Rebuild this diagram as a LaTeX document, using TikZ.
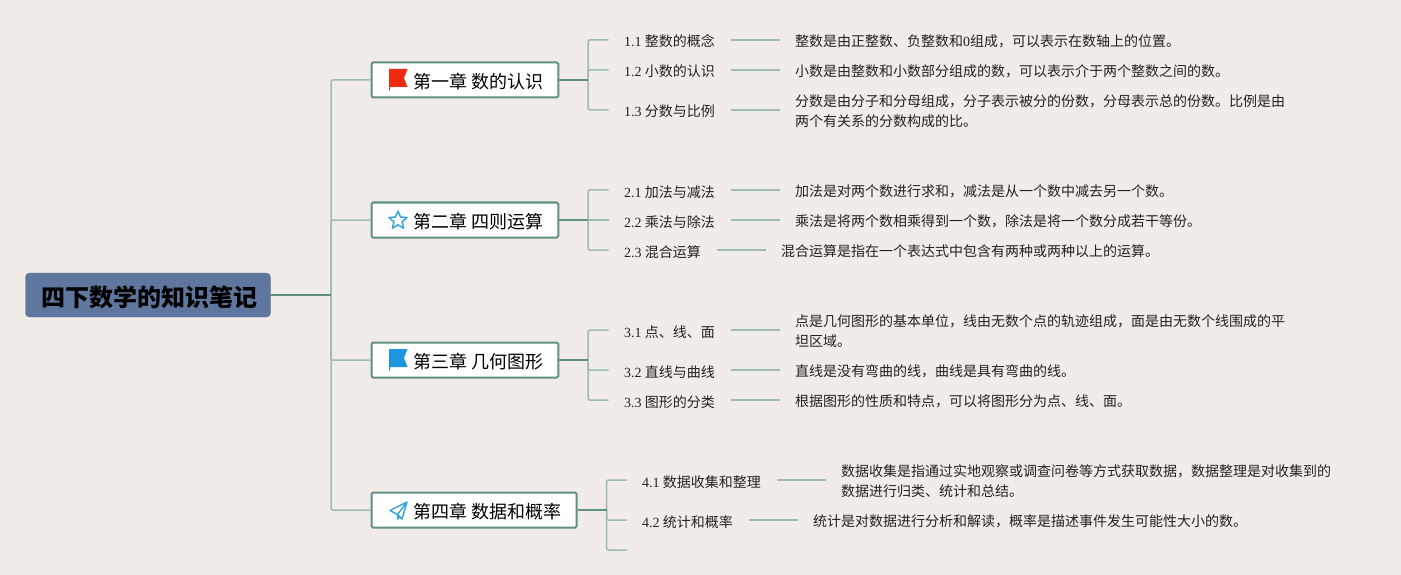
\documentclass[tikz,border=0pt]{standalone}
\usepackage{fontspec}
\setmainfont{Noto Sans CJK SC}
\newfontfamily\latinf{Liberation Serif}
\newcommand{\nm}[1]{{\latinf #1}}
\usetikzlibrary{shapes.geometric}
\definecolor{bgc}{HTML}{F1ECE8}
\definecolor{darkl}{HTML}{5F9081}
\definecolor{lightl}{HTML}{9DBDAE}
\definecolor{rootc}{HTML}{5F779F}
\definecolor{txt}{HTML}{222222}
\definecolor{iconblue}{HTML}{3BA3DE}
\definecolor{flagblue}{HTML}{1C96E0}
\definecolor{flagred}{HTML}{EE2A0F}
\tikzset{
  rootbox/.style={draw=rootc,fill=rootc,rounded corners=4pt,minimum width=245pt,minimum height=44pt,inner sep=0pt,text height=22pt,text depth=0pt,font=\fontsize{24}{28}\selectfont\bfseries,text=black},
  chapbox/.style={draw=darkl,fill=white,line width=2pt,rounded corners=1.5pt,anchor=west,minimum height=35pt,inner sep=0pt},
  chaptxt/.style={anchor=west,inner sep=0pt,font=\fontsize{18}{20}\selectfont,text=black},
  sublabel/.style={anchor=west,inner xsep=15.5pt,inner ysep=0pt,text height=14pt,text depth=0pt,font=\fontsize{14}{20}\selectfont,text=txt},
  desc/.style={anchor=west,inner xsep=15pt,inner ysep=0pt,align=left,font=\fontsize{14}{20}\selectfont,text=txt},
  dk/.style={draw=darkl,line width=2pt},
  lt/.style={draw=lightl,line width=1.5pt,rounded corners=1.5pt},
  lk/.style={draw=lightl,line width=1.5pt}
}
\begin{document}
\begin{tikzpicture}[x=1pt,y=-1pt]
\fill[bgc] (0,0) rectangle (1401,575);
\useasboundingbox (0,0) rectangle (1401,575);
% junctions
\coordinate (trunk) at (331,295);
\coordinate (j1) at (588,80);
\coordinate (j2) at (588,220);
\coordinate (j3) at (588,360);
\coordinate (j4) at (606.5,510);
\coordinate (e43) at (627,550);
% root and chapters
\node[rootbox] (root) at (148,295) {\hspace*{2pt}四下数学的知识笔记};
\node[chapbox,minimum width=186.8pt] (c1) at (370.5,80) {};
\node[chapbox,minimum width=186.8pt] (c2) at (370.5,220) {};
\node[chapbox,minimum width=186.8pt] (c3) at (370.5,360) {};
\node[chapbox,minimum width=205.2pt] (c4) at (370.5,510) {};
\node[chaptxt] (t1) at (413,82) {第一章 数的认识};
\node[chaptxt] (t2) at (413,222) {第二章 四则运算};
\node[chaptxt] (t3) at (413,362) {第三章 几何图形};
\node[chaptxt] (t4) at (413,512) {第四章 数据和概率};
% icons
\fill[flagred] (389,69) -- (407.5,69) -- (404,78) -- (407.5,87) -- (390,87) -- (390,90.5) -- (389,90.5) -- cycle;
\node[star,star points=5,star point ratio=2.2,draw=iconblue,line width=1.5pt,line join=round,minimum size=19pt,inner sep=0pt] (ic2) at (398,220.5) {};
\fill[flagblue] (389,349) -- (407.5,349) -- (404,358) -- (407.5,367) -- (390,367) -- (390,370.5) -- (389,370.5) -- cycle;
\draw[iconblue,line width=1.5pt,line join=round] (390,510.5) -- (407,502) -- (402,519) -- (397.5,514.5) -- cycle (397.5,514.5) -- (407,502) (397.5,514.5) -- (397.5,519) -- (400.5,516.5);
% sub labels
\node[sublabel] (l11) at (608.5,40) {\nm{1.1} 整数的概念};
\node[sublabel] (l12) at (608.5,70) {\nm{1.2} 小数的认识};
\node[sublabel] (l13) at (608.5,110) {\nm{1.3} 分数与比例};
\node[sublabel] (l21) at (608.5,190) {\nm{2.1} 加法与减法};
\node[sublabel] (l22) at (608.5,220) {\nm{2.2} 乘法与除法};
\node[sublabel] (l23) at (608.5,250) {\nm{2.3} 混合运算};
\node[sublabel] (l31) at (608.5,330) {\nm{3.1} 点、线、面};
\node[sublabel] (l32) at (608.5,370) {\nm{3.2} 直线与曲线};
\node[sublabel] (l33) at (608.5,400) {\nm{3.3} 图形的分类};
\node[sublabel] (l41) at (626.5,480) {\nm{4.1} 数据收集和整理};
\node[sublabel] (l42) at (626.5,520) {\nm{4.2} 统计和概率};
% descriptions
\node[desc] (d11) at (780,41) {整数是由正整数、负整数和\nm{0}组成，可以表示在数轴上的位置。};
\node[desc] (d12) at (780,71) {小数是由整数和小数部分组成的数，可以表示介于两个整数之间的数。};
\node[desc] (d13) at (780,111) {分数是由分子和分母组成，分子表示被分的份数，分母表示总的份数。比例是由\\两个有关系的分数构成的比。};
\node[desc] (d21) at (780,191) {加法是对两个数进行求和，减法是从一个数中减去另一个数。};
\node[desc] (d22) at (780,221) {乘法是将两个数相乘得到一个数，除法是将一个数分成若干等份。};
\node[desc] (d23) at (766,251) {混合运算是指在一个表达式中包含有两种或两种以上的运算。};
\node[desc] (d31) at (780,331) {点是几何图形的基本单位，线由无数个点的轨迹组成，面是由无数个线围成的平\\坦区域。};
\node[desc] (d32) at (780,371) {直线是没有弯曲的线，曲线是具有弯曲的线。};
\node[desc] (d33) at (780,401) {根据图形的性质和特点，可以将图形分为点、线、面。};
\node[desc] (d41) at (826,481) {数据收集是指通过实地观察或调查问卷等方式获取数据，数据整理是对收集到的\\数据进行归类、统计和总结。};
\node[desc] (d42) at (798,521) {统计是对数据进行分析和解读，概率是描述事件发生可能性大小的数。};
% trunk
\draw[lt] (trunk) |- (c1.west);
\draw[lt] (trunk) |- (c2.west);
\draw[lt] (trunk) |- (c3.west);
\draw[lt] (trunk) |- (c4.west);
\draw[dk] (root.east) -- (trunk);
% chapter to sub
\draw[lt] (j1) |- (l11.west);
\draw[lt] (j1) |- (l12.west);
\draw[lt] (j1) |- (l13.west);
\draw[lt] (j2) |- (l21.west);
\draw[lt] (j2) -- (l22.west);
\draw[lt] (j2) |- (l23.west);
\draw[lt] (j3) |- (l31.west);
\draw[lt] (j3) |- (l32.west);
\draw[lt] (j3) |- (l33.west);
\draw[lt] (j4) |- (l41.west);
\draw[lt] (j4) |- (l42.west);
\draw[lt] (j4) |- (e43);
\draw[dk] (c1.east) -- (j1);
\draw[dk] (c2.east) -- (j2);
\draw[dk] (c3.east) -- (j3);
\draw[dk] (c4.east) -- (j4);
% sub to desc
\foreach \n in {11,12,13,21,22,23,31,32,33,41,42} \draw[lk] (l\n.east) -- (l\n.east -| d\n.west);
\end{tikzpicture}
\end{document}
